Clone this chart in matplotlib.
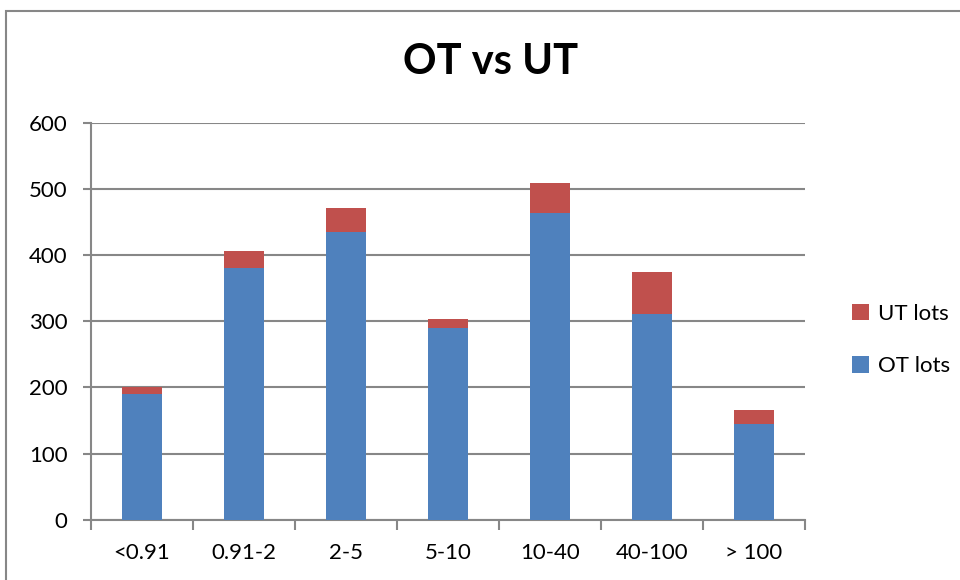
import matplotlib
matplotlib.use("Agg")
import matplotlib.pyplot as plt
import matplotlib.patches as mpatches
import numpy as np

categories = ["<0.91", "0.91-2", "2-5", "5-10", "10-40", "40-100", "> 100"]
ot_lots = [190, 380, 435, 290, 464, 311, 144]
ut_lots = [10, 26, 37, 13, 46, 64, 22]

blue = "#4F81BD"
red = "#C0504D"
gray = "#878787"
FONT = "Lato"

W, H = 960, 580
fig = plt.figure(figsize=(W / 100, H / 100), dpi=100)

# chart border
fig.add_artist(mpatches.Rectangle((5.5 / W, -0.1), 2.0, 1 - 10.5 / H + 0.1,
                                  transform=fig.transFigure, fill=False,
                                  edgecolor=gray, linewidth=1.5))

ax = fig.add_axes([91 / W, 1 - 519.7 / H, (805 - 91) / W, (519.7 - 123) / H])
x = np.arange(len(categories))
b1 = ax.bar(x, ot_lots, width=0.39, color=blue, label="OT lots", zorder=3)
b2 = ax.bar(x, ut_lots, width=0.39, bottom=ot_lots, color=red, label="UT lots", zorder=3)

ax.set_xlim(-0.5, len(categories) - 0.5)
ax.set_ylim(0, 600)
ax.set_yticks(np.arange(0, 601, 100))
ax.yaxis.grid(True, color=gray, linewidth=1.5, zorder=0)
ax.set_axisbelow(True)

for s in ["top", "right"]:
    ax.spines[s].set_visible(False)
for s in ["left", "bottom"]:
    ax.spines[s].set_color(gray)
    ax.spines[s].set_linewidth(1.5)

ax.set_xticks(x)
ax.set_xticklabels(categories, fontname=FONT, fontsize=16)
ax.tick_params(axis="x", length=0, pad=17)
ax.set_xticks(np.arange(-0.5, len(categories), 1), minor=True)
ax.tick_params(axis="x", which="minor", length=7, width=1.5, color=gray, direction="out")
ax.tick_params(axis="y", length=6, width=1.5, color=gray, direction="out", pad=11)
for lbl in ax.get_yticklabels():
    lbl.set_fontname(FONT)
    lbl.set_fontsize(16)

fig.text(491 / W, 1 - 62 / H, "OT vs UT", ha="center", va="center",
         fontname=FONT, fontweight="bold", fontsize=30)

leg = fig.legend([b2, b1], ["UT lots", "OT lots"], loc="center left",
                 bbox_to_anchor=(832 / W, 1 - 340 / H), frameon=False,
                 prop={"family": FONT, "size": 16}, handlelength=0.75,
                 handleheight=0.75, handletextpad=0.4, labelspacing=1.45)

fig.savefig("out.png", dpi=100)
